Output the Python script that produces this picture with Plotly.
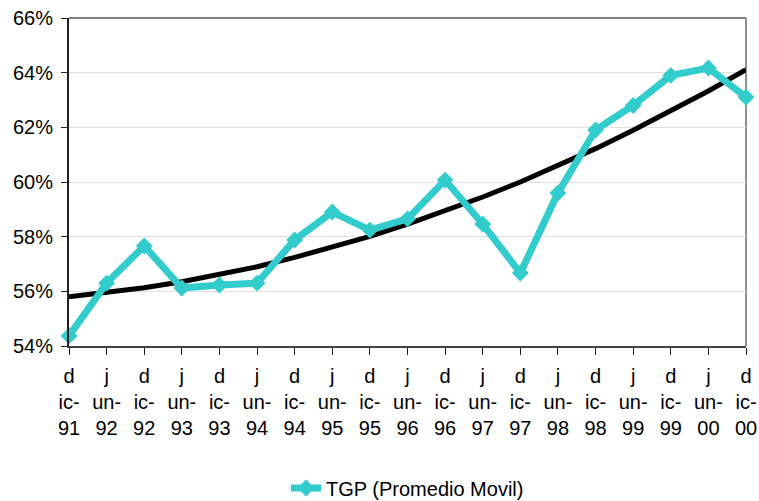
import plotly.graph_objects as go

periodos = ["dic-91", "jun-92", "dic-92", "jun-93", "dic-93", "jun-94", "dic-94",
            "jun-95", "dic-95", "jun-96", "dic-96", "jun-97", "dic-97", "jun-98",
            "dic-98", "jun-99", "dic-99", "jun-00", "dic-00"]
etiquetas = ["d<br>ic-<br>91", "j<br>un-<br>92", "d<br>ic-<br>92", "j<br>un-<br>93",
             "d<br>ic-<br>93", "j<br>un-<br>94", "d<br>ic-<br>94", "j<br>un-<br>95",
             "d<br>ic-<br>95", "j<br>un-<br>96", "d<br>ic-<br>96", "j<br>un-<br>97",
             "d<br>ic-<br>97", "j<br>un-<br>98", "d<br>ic-<br>98", "j<br>un-<br>99",
             "d<br>ic-<br>99", "j<br>un-<br>00", "d<br>ic-<br>00"]

tgp = [0.5437, 0.5630, 0.5766, 0.5612, 0.5623, 0.5630, 0.5788, 0.5890, 0.5824,
       0.5865, 0.6007, 0.5846, 0.5667, 0.5960, 0.6190, 0.6280, 0.6390, 0.6417, 0.6310]

tendencia = [0.5580, 0.5595, 0.5613, 0.5635, 0.5661, 0.5690, 0.5724, 0.5761, 0.5801,
             0.5846, 0.5894, 0.5945, 0.6000, 0.6060, 0.6122, 0.6189, 0.6259, 0.6333, 0.6411]

fuente = "Liberation Sans, Arial, sans-serif"

fig = go.Figure()

fig.add_trace(go.Scatter(
    x=periodos, y=tendencia, mode="lines",
    line=dict(color="black", width=5),
    showlegend=False, hoverinfo="skip", cliponaxis=False,
))

fig.add_trace(go.Scatter(
    x=periodos, y=tgp, mode="lines+markers",
    name="TGP (Promedio Movil)",
    line=dict(color="#33CCCC", width=7),
    marker=dict(symbol="diamond", size=13, color="#33CCCC"),
    cliponaxis=False,
))

fig.update_layout(
    template="none",
    width=759, height=501,
    margin=dict(l=69, r=13, t=18, b=155, autoexpand=False),
    paper_bgcolor="white", plot_bgcolor="white",
    font=dict(family=fuente, size=20, color="black"),
    legend=dict(orientation="h", x=0.5, xanchor="center", y=-0.433, yanchor="middle",
                font=dict(size=20)),
    xaxis=dict(
        type="category", range=[0, 18], automargin=False,
        tickvals=periodos, ticktext=etiquetas,
        showgrid=False, showline=True, linecolor="#404040", linewidth=2,
        ticks="outside", ticklen=7, tickcolor="#202020", tickwidth=1,
        ticklabelstandoff=4, ticklabeloverflow="allow",
    ),
    yaxis=dict(
        range=[0.54, 0.66], dtick=0.02, tickformat=".0%", automargin=False,
        showgrid=True, gridcolor="#E0E0E0", gridwidth=1,
        showline=True, linecolor="#202020", linewidth=2,
        ticks="outside", ticklen=6, tickcolor="#202020", tickwidth=1,
        ticklabelstandoff=4, ticklabeloverflow="allow", zeroline=False,
    ),
    shapes=[
        dict(type="line", xref="paper", yref="paper", x0=0, x1=1, y0=1, y1=1,
             line=dict(color="#808080", width=2), layer="below"),
        dict(type="line", xref="paper", yref="paper", x0=1, x1=1, y0=0, y1=1,
             line=dict(color="#909090", width=2), layer="below"),
    ],
)

# drop the default 8px page margin so the figure fills the window
fig.write_html("out.html", config={"displayModeBar": False},
               post_script="document.body.style.margin='0';")
